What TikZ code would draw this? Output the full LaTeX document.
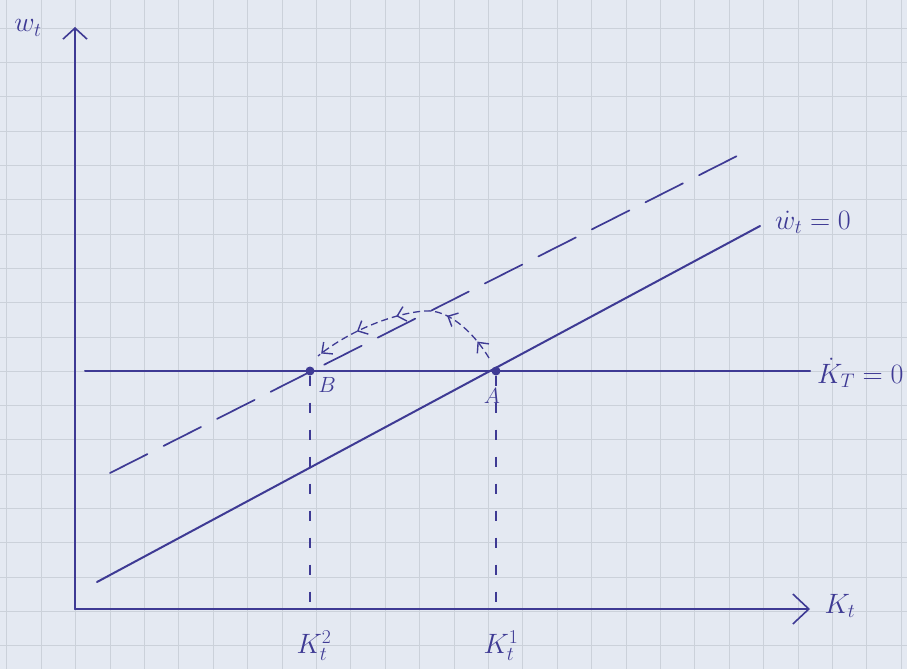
\RequirePackage{fix-cm}
\documentclass[tikz,border=0pt]{standalone}
\usetikzlibrary{arrows.meta,decorations.markings}
\definecolor{paper}{RGB}{228,233,242}
\definecolor{gridc}{RGB}{203,209,218}
\definecolor{ink}{RGB}{62,58,148}
\tikzset{
  ink line/.style={draw=ink,line width=2pt,line cap=round},
  dashdiag/.style={ink line,line width=1.7pt,dash pattern=on 42pt off 18pt},
  dashvert/.style={draw=ink,line width=1.3pt,dash pattern=on 10pt off 17pt},
  lbl/.style={text=ink,font=\fontsize{28}{30}\selectfont,inner sep=0pt},
  smalllbl/.style={text=ink,font=\fontsize{22}{24}\selectfont,inner sep=0pt},
  dotnode/.style={circle,fill=ink,inner sep=0pt,minimum size=9pt},
  chevtip/.tip={Straight Barb[length=8pt,width=15pt,line width=1.4pt]},
}
\begin{document}
\begin{tikzpicture}[x=1pt,y=-1pt]
\useasboundingbox (0,0) rectangle (907,669);
\fill[paper] (0,0) rectangle (907,669);
% graph paper
\foreach \i in {0,...,26} \draw[gridc,line width=0.7pt] ({6.8+34.4*\i},0) -- ({6.8+34.4*\i},669);
\foreach \j in {0,...,18} \draw[gridc,line width=0.7pt] (0,{28.2+34.3*\j}) -- (907,{28.2+34.3*\j});
% axes
\coordinate (O) at (75,609);
\coordinate (ytop) at (75,27);
\coordinate (xend) at (810,609);
\draw[ink line,-{Straight Barb[length=11pt,width=24pt,line width=1.6pt]}] (O) -- (ytop);
\draw[ink line,-{Straight Barb[length=16pt,width=30pt,line width=1.6pt]}] (O) -- (xend);
\node[lbl] (wlab) at (28,28) {$w_t$};
\node[lbl] (klab) at (840,606) {$K_t$};
% Kdot = 0 line
\coordinate (h1) at (85,371);
\coordinate (h2) at (810,371);
\draw[ink line] (h1) -- (h2);
\node[lbl,anchor=west] (kdot) at (817,373) {$\dot K_T = 0$};
% wdot = 0 line
\coordinate (s1) at (97,582);
\coordinate (s2) at (760,226);
\draw[ink line] (s1) -- (s2);
\node[lbl,anchor=west] (wdot) at (775,222) {$\dot w_t = 0$};
% shifted dashed line
\coordinate (d1) at (110,473);
\coordinate (d2) at (737,156);
\draw[dashdiag] (d1) -- (d2);
% points
\node[dotnode] (A) at (496,371) {};
\node[dotnode] (B) at (310,371) {};
\node[smalllbl] (Alab) at (492,396) {$A$};
\node[smalllbl] (Blab) at (327,385) {$B$};
% vertical dashed
\draw[dashvert] (A) -- (A |- O);
\draw[dashvert] (B) -- (B |- O);
\node[lbl] (k2) at (314,646) {$K_t^2$};
\node[lbl] (k1) at (501,646) {$K_t^1$};
% adjustment path
\coordinate (p0) at (489,358);
\coordinate (pk) at (425,311);
\coordinate (p1) at (318,356);
\draw[draw=ink,line width=1.3pt,dash pattern=on 7pt off 4pt,
  decoration={markings,
    mark=at position 0.1 with {\arrow{chevtip}},
    mark=at position 0.3 with {\arrow{chevtip}},
    mark=at position 0.56 with {\arrow{chevtip}},
    mark=at position 0.77 with {\arrow{chevtip}},
    mark=at position 0.98 with {\arrow{chevtip}}},
  postaction={decorate}]
  (p0) .. controls (472,330) and (447,309) .. (pk) .. controls (395,313) and (350,330) .. (p1);
\end{tikzpicture}
\end{document}
